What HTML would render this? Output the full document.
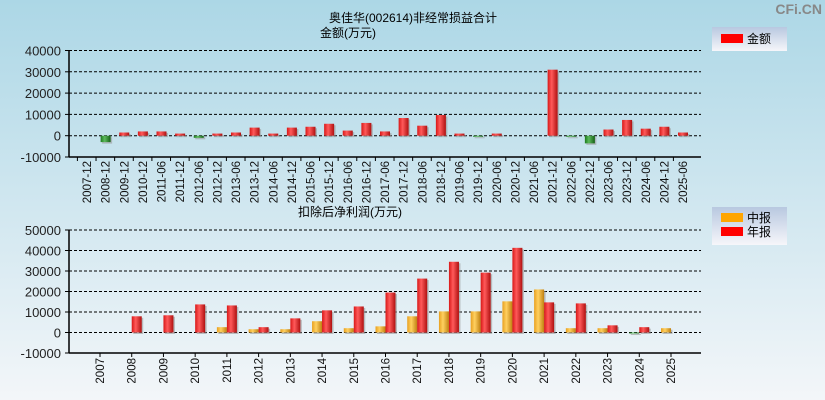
<!DOCTYPE html>
<html><head><meta charset="utf-8"><style>
html,body{margin:0;padding:0}
body{width:825px;height:400px;overflow:hidden;background:linear-gradient(#acd7e6,#f3f6f9);font-family:"Liberation Sans","Noto Sans CJK SC",sans-serif}
svg{display:block}
svg text{font-family:"Liberation Sans","Noto Sans CJK SC",sans-serif}
</style></head><body>
<svg id="c" width="825" height="400">
<defs>
<linearGradient id="gr" x1="0" x2="1"><stop offset="0" stop-color="#d81818"/><stop offset="0.4" stop-color="#ff5a5a"/><stop offset="1" stop-color="#b01010"/></linearGradient>
<linearGradient id="gg" x1="0" x2="1"><stop offset="0" stop-color="#1d7a1d"/><stop offset="0.4" stop-color="#5cba5c"/><stop offset="1" stop-color="#156015"/></linearGradient>
<linearGradient id="go" x1="0" x2="1"><stop offset="0" stop-color="#e8a020"/><stop offset="0.4" stop-color="#ffd060"/><stop offset="1" stop-color="#c08010"/></linearGradient>
<linearGradient id="lg" x1="0" y1="0" x2="0" y2="1"><stop offset="0" stop-color="#b8c8e0"/><stop offset="1" stop-color="#f6f6fa"/></linearGradient>
</defs>
<text x="413" y="22" text-anchor="middle" font-size="12">奥佳华(002614)非经常损益合计</text>
<text x="348" y="37" text-anchor="middle" font-size="12">金额(万元)</text>
<text x="350" y="216" text-anchor="middle" font-size="12">扣除后净利润(万元)</text>
<text x="822" y="14" text-anchor="end" font-size="14" font-weight="bold" fill="#888">CFi.CN</text>
<g>
<rect x="712" y="27" width="75" height="24" fill="url(#lg)"/>
<rect x="721" y="34" width="22" height="9" fill="#f00"/>
<text x="747" y="43" font-size="12">金额</text>
</g>
<g>
<rect x="712" y="207" width="75" height="38" fill="url(#lg)"/>
<rect x="721" y="213" width="22" height="9" fill="#ffa500"/>
<text x="747" y="222" font-size="12">中报</text>
<rect x="721" y="227" width="22" height="9" fill="#f00"/>
<text x="747" y="236" font-size="12">年报</text>
</g>
<g id="top"></g><g id="bot"></g>
</svg>
<script>
const topCats=["2007-12","2008-12","2009-12","2010-12","2011-06","2011-12","2012-06","2012-12","2013-06","2013-12","2014-06","2014-12","2015-06","2015-12","2016-06","2016-12","2017-06","2017-12","2018-06","2018-12","2019-06","2019-12","2020-06","2020-12","2021-06","2021-12","2022-06","2022-12","2023-06","2023-12","2024-06","2024-12","2025-06"];
const topVals=[0,-3000,1500,2000,2000,1000,-1000,1000,1500,3800,1000,3800,4200,5600,2400,6000,2000,8300,4700,9700,1000,-500,1000,0,0,31000,-500,-3600,2900,7400,3300,4200,1500];
const topTicks=[40000,30000,20000,10000,0,-10000];
const botCats=["2007","2008","2009","2010","2011","2012","2013","2014","2015","2016","2017","2018","2019","2020","2021","2022","2023","2024","2025"];
const interimVals=[0,0,0,0,2600,1600,1600,5500,2100,3000,7900,10300,10300,15200,21000,2100,2100,-500,2100];
const annualVals=[0,7900,8400,13700,13200,2600,6900,10800,12700,19500,26300,34500,29200,41300,14700,14200,3500,2600,null];
const botTicks=[50000,40000,30000,20000,10000,0,-10000];
const NS="http://www.w3.org/2000/svg";
function mk(p,t,a){const e=document.createElementNS(NS,t);for(const k in a)e.setAttribute(k,a[k]);p.appendChild(e);return e;}
function frame(g,x0,x1,yTop,yBot,ticks,ys,nameP){
  ticks.forEach(t=>{const y=ys(t);
    const l=mk(g,'line',{x1:x0,x2:x1,y1:y,y2:y,stroke:'#000','stroke-dasharray':'3,2','stroke-width':1});
    
    
    mk(g,'line',{x1:x0-4,x2:x0,y1:y,y2:y,stroke:'#000'});
    const tx=mk(g,'text',{x:x0-8,y:y+5,'text-anchor':'end','font-size':13,fill:'#222'});tx.textContent=t;
    
    
  });
  mk(g,'line',{x1:x0,x2:x0,y1:yTop,y2:yBot,stroke:'#000','stroke-width':1.5});
  mk(g,'line',{x1:x0,x2:x1,y1:yBot,y2:yBot,stroke:'#000','stroke-width':1.5});
}
function bar(g,cx,w,v,ys,fill,name){
  if(v===null)return;const z=ys(0),y=ys(v);
  let f=fill;if(v<0)f='url(#gg)';
  const h=Math.abs(z-y);if(h<0.5)return;
  mk(g,'rect',{x:cx-w/2+1.5,y:Math.min(y,z)+1.5,width:w,height:h,fill:'#999',opacity:0.6});
  const r=mk(g,'rect',{x:cx-w/2,y:Math.min(y,z),width:w,height:h,fill:f});
  
  
}
(function(){const g=document.getElementById('top');
  
  
  const x0=69,x1=701,yT=50.5,yB=157;
  const ys=v=>yT+(40000-v)/50000*(yB-yT);
  const xs=i=>87+i*(683-87)/(topCats.length-1);
  frame(g,x0,x1,yT,yB,topTicks,ys,'top');
  topCats.forEach((c,i)=>{const x=xs(i);
    mk(g,'line',{x1:x-9.6,x2:x-9.6,y1:yB,y2:yB+4,stroke:'#000'});
    bar(g,x,10,topVals[i],ys,'url(#gr)','top-bar');
    const t=mk(g,'text',{x:0,y:0,'font-size':11.5,'text-anchor':'end',transform:`translate(${x+4},161) rotate(-90)`,fill:'#111'});t.textContent=c;
    
    
  });
})();
(function(){const g=document.getElementById('bot');
  
  
  const x0=69,x1=701,yT=230,yB=353;
  const ys=v=>yT+(50000-v)/60000*(yB-yT);
  const xs=i=>100+i*(671-100)/(botCats.length-1);
  frame(g,x0,x1,yT,yB,botTicks,ys,'bottom');
  botCats.forEach((c,i)=>{const x=xs(i);
    mk(g,'line',{x1:x,x2:x,y1:yB,y2:yB+4,stroke:'#000'});
    bar(g,x-5,10,interimVals[i],ys,'url(#go)','interim-bar');
    bar(g,x+5,10,annualVals[i],ys,'url(#gr)','annual-bar');
    const t=mk(g,'text',{x:0,y:0,'font-size':11.5,'text-anchor':'end',transform:`translate(${x+4},358) rotate(-90)`,fill:'#111'});t.textContent=c;
    
    
  });
})();
</script>
</body></html>
